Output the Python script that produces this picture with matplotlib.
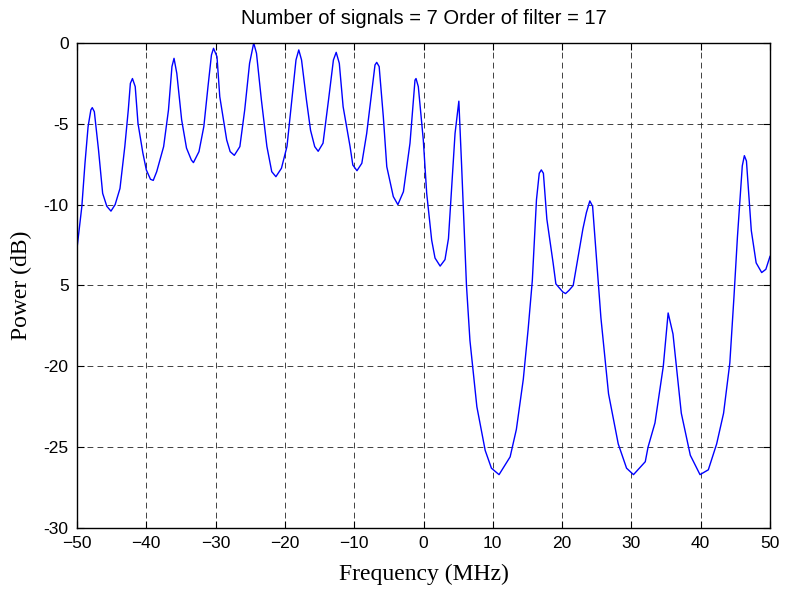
import matplotlib
matplotlib.use("Agg")
import matplotlib.pyplot as plt

# traced spectrum (frequency in MHz, power in dB)
freq = [-50.0, -49.3, -48.85, -48.4, -48.0, -47.8, -47.5, -46.9, -46.3, -45.7, -45.1,
        -44.5, -43.8, -43.1, -42.6, -42.3, -42.0, -41.6, -41.2, -40.5, -40.0, -39.4,
        -39.0, -38.5, -37.5, -36.8, -36.3, -36.0, -35.6, -34.9, -34.2, -33.5, -33.2,
        -32.4, -31.7, -31.1, -30.6, -30.3, -29.8, -29.4, -28.4, -27.9, -27.3, -26.5,
        -25.8, -25.1, -24.5, -24.1, -23.4, -22.6, -21.9, -21.3, -20.5, -19.7, -19.0,
        -18.4, -18.0, -17.6, -16.9, -16.3, -15.7, -15.2, -14.5, -13.7, -13.0, -12.6,
        -12.15, -11.6, -10.6, -10.2, -9.6, -8.9, -8.2, -7.5, -7.0, -6.75, -6.4, -5.8,
        -5.3, -4.36, -3.7, -2.9, -1.95, -1.23, -1.08, -0.75, -0.03, 0.46, 1.18, 1.66,
        2.4, 3.1, 3.6, 4.55, 5.1, 5.5, 6.2, 6.7, 7.7, 8.9, 9.8, 10.9, 12.5, 13.4,
        14.4, 15.1, 15.7, 16.3, 16.7, 17.0, 17.3, 17.8, 18.7, 19.1, 20.1, 20.5, 21.0,
        21.6, 23.0, 23.5, 24.0, 24.4, 25.2, 25.6, 26.7, 28.1, 29.3, 30.3, 32.0, 32.4,
        33.4, 34.6, 35.3, 36.0, 37.2, 38.5, 39.9, 41.1, 42.3, 43.3, 44.2, 44.8, 45.3,
        46.0, 46.3, 46.6, 47.3, 48.0, 48.8, 49.4, 50.0]
power = [-12.7, -10.1, -7.44, -5.17, -4.14, -4.0, -4.25, -6.6, -9.3, -10.1, -10.4,
         -10.0, -9.0, -6.4, -4.14, -2.5, -2.2, -2.7, -4.97, -6.8, -7.85, -8.43,
         -8.5, -7.96, -6.41, -4.14, -1.46, -0.95, -1.88, -4.76, -6.5, -7.24, -7.4,
         -6.72, -5.17, -2.7, -0.74, -0.33, -0.85, -3.32, -6.0, -6.72, -6.95, -6.41,
         -4.14, -1.26, 0.0, -0.64, -3.5, -6.4, -7.96, -8.27, -7.75, -6.4, -3.5,
         -1.05, -0.43, -1.05, -3.5, -5.4, -6.41, -6.7, -6.2, -3.5, -1.05, -0.58,
         -1.26, -3.94, -6.4, -7.55, -7.9, -7.44, -5.6, -3.1, -1.36, -1.2, -1.46, -4.56,
         -7.65, -9.5, -10.0, -9.2, -6.2, -2.3, -2.2, -2.7, -6.0, -9.3, -12.2, -13.3,
         -13.8, -13.4, -12.1, -5.6, -3.6, -7.6, -15.0, -18.4, -22.5, -25.2, -26.3, -26.7, -25.6, -23.9,
         -20.8, -17.7, -14.7, -9.7, -8.06, -7.85, -8.06, -10.9, -13.6, -14.9, -15.4, -15.5, -15.3,
         -15.0, -11.5, -10.5, -9.77, -10.1, -14.7, -17.0, -21.7, -24.8, -26.3, -26.7, -25.9, -25.0,
         -23.5, -20.0, -16.7, -18.0, -22.9, -25.5, -26.7, -26.4, -24.8, -22.9, -19.8, -15.7, -12.0,
         -7.6, -6.97, -7.3, -11.6, -13.6, -14.2, -14.0, -13.2]

xticks = [-50, -40, -30, -20, -10, 0, 10, 20, 30, 40, 50]
yticks = [0, -5, -10, -15, -20, -25, -30]
ytick_labels = ["0", "-5", "-10", "5", "-20", "-25", "-30"]

fig = plt.figure(figsize=(7.85, 5.96), dpi=100)
ax = fig.add_axes([0.0981, 0.1141, 0.8828, 0.8138])

ax.plot(freq, power, color="#0000ff", lw=1.0)

ax.set_xlim(-50, 50)
ax.set_ylim(-30, 0)
ax.set_xticks(xticks)
ax.set_yticks(yticks)
ax.set_yticklabels(ytick_labels)

ax.grid(True, color="#222222", linestyle=(0, (7, 5)), lw=0.6)
ax.tick_params(direction="in", length=5, width=0.8, top=True, right=True,
               labelsize=12.5, pad=6)
for lbl in ax.get_xticklabels() + ax.get_yticklabels():
    lbl.set_family("Liberation Sans")
for s in ax.spines.values():
    s.set_linewidth(1.0)

ax.set_title("Number of signals = 7 Order of filter = 17",
             family="Liberation Sans", fontsize=14.5, pad=14)
ax.set_xlabel("Frequency (MHz)", family="Liberation Serif", fontsize=17, labelpad=9)
ax.set_ylabel("Power (dB)", family="Liberation Serif", fontsize=17, labelpad=8)

fig.savefig("out.png", dpi=100)
